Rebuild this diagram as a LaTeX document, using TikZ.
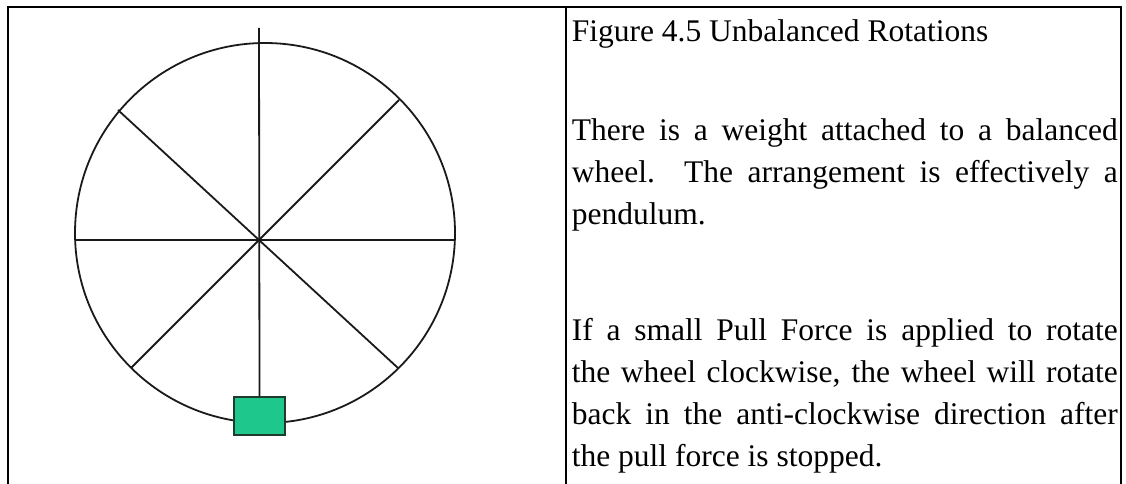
\documentclass[tikz,border=0pt]{standalone}
\usepackage{fontspec}
\setmainfont{Liberation Serif}
\usetikzlibrary{positioning}
\definecolor{cline}{HTML}{1A1A1A}
\definecolor{cweight}{HTML}{1EC78C}
\definecolor{cedge}{HTML}{1E3B2E}
\tikzset{
  every picture/.style={line width=1.6pt},
  frame/.style={draw=black, line width=2.6pt},
  spoke/.style={draw=cline, line width=1.8pt},
  weight/.style={draw=cedge, fill=cweight, line width=1.4pt, minimum width=51pt, minimum height=38pt, inner sep=0pt},
  para/.style={anchor=base west, inner sep=0pt, text width=546pt, align=justify, font=\fontsize{31.5}{42}\selectfont},
}

\begin{document}
\begin{tikzpicture}[x=1pt, y=-1pt]
  \useasboundingbox (0,0) rectangle (1126,484);
  % table
  \draw[frame] (8,484) -- (8,7) -- (1121,7) -- (1121,484);
  \draw[frame] (566,7) -- (566,484);
  % wheel
  \coordinate (hub) at (259,240);
  \coordinate (rim) at (265,233);
  \coordinate (n) at (259,28);
  \coordinate (w) at (76,240);
  \coordinate (e) at (455,240);
  \coordinate (ul) at (118,110);
  \coordinate (ur) at (399,100);
  \coordinate (ll) at (131,368);
  \coordinate (lr) at (398,368);
  \draw[spoke] (rim) circle[radius=190pt];
  \draw[spoke] (w) -- (e);
  \draw[spoke] (ul) -- (hub) -- (lr);
  \draw[spoke] (ur) -- (hub) -- (ll);
  \node[weight] (bob) at (259.5,416) {};
  \draw[spoke] (n) -- (bob.north);
  % text
  \node[para] (title) at (571,42) {Figure 4.5 Unbalanced Rotations};
  \node[para] (first) at (571,140) {There is a weight attached to a balanced\linebreak
    wheel.\ \ The arrangement is effectively a\linebreak pendulum.};
  \node[para] (second) at (571,340) {If a small Pull Force is applied to rotate\linebreak
    the wheel clockwise, the wheel will rotate\linebreak
    back in the anti-clockwise direction after\linebreak the pull force is stopped.};
\end{tikzpicture}
\end{document}
